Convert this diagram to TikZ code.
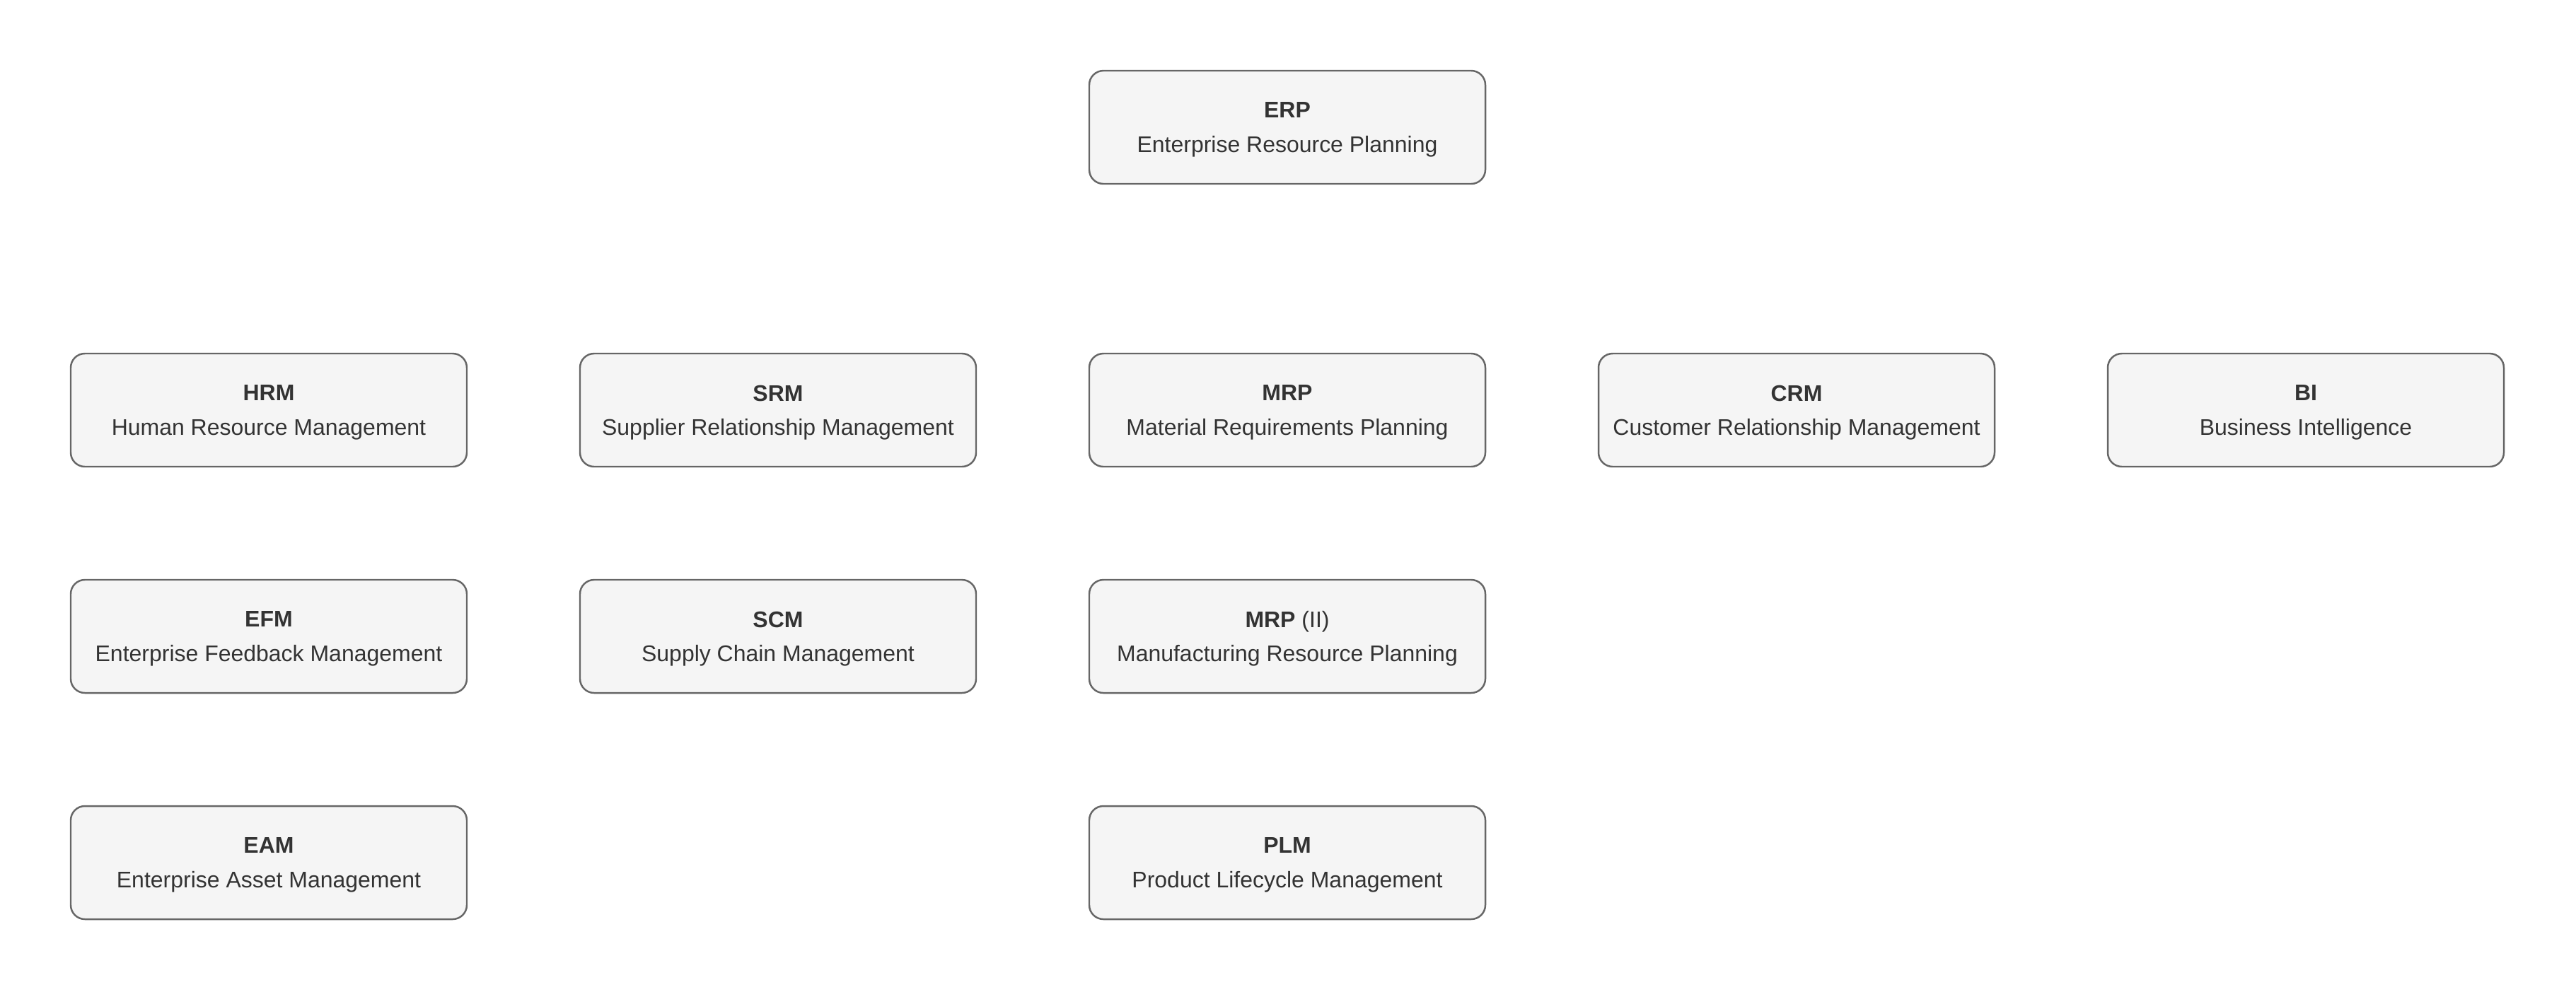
\documentclass[tikz,border=0pt]{standalone}
\usepackage{fontspec}
\setmainfont{Liberation Sans}
\usepackage{tikz}
\usetikzlibrary{calc}
\definecolor{boxfill}{HTML}{F5F5F5}
\definecolor{boxline}{HTML}{666666}
\definecolor{boxtext}{HTML}{333333}
\tikzset{module/.style={draw=boxline,fill=boxfill,line width=0.7pt,rounded corners=0.2cm,
  minimum width=5.6cm,minimum height=1.6cm,align=center,text=boxtext,text depth=0pt,
  font=\fontsize{9.1}{13.7}\selectfont}}

\begin{document}
\begin{tikzpicture}
        \useasboundingbox (0,0) rectangle (36.42,-14.02);
        % Top
        \node[module] (erp) at (18.2,-1.8) {\textbf{ERP}\\Enterprise Resource Planning};

        % Second row
        \node[module] (hrm) at (3.8,-5.8) {\textbf{HRM}\\Human Resource Management};
        \node[module] (srm) at (11.0,-5.8) {\textbf{SRM}\\Supplier Relationship Management};
        \node[module] (mrp) at (18.2,-5.8) {\textbf{MRP}\\Material Requirements Planning};
        \node[module] (crm) at (25.4,-5.8) {\textbf{CRM}\\Customer Relationship Management};
        \node[module] (bi) at (32.6,-5.8) {\textbf{BI}\\Business Intelligence};

        % Third row
        \node[module] (efm) at (3.8,-9.0) {\textbf{EFM}\\Enterprise Feedback Management};
        \node[module] (scm) at (11.0,-9.0) {\textbf{SCM}\\Supply Chain Management};
        \node[module] (mrpii) at (18.2,-9.0) {\textbf{MRP} (II)\\Manufacturing Resource Planning};

        % Fourth row
        \node[module] (eam) at (3.8,-12.2) {\textbf{EAM}\\Enterprise Asset Management};
        \node[module] (plm) at (18.2,-12.2) {\textbf{PLM}\\Product Lifecycle Management};
\end{tikzpicture}
\end{document}
